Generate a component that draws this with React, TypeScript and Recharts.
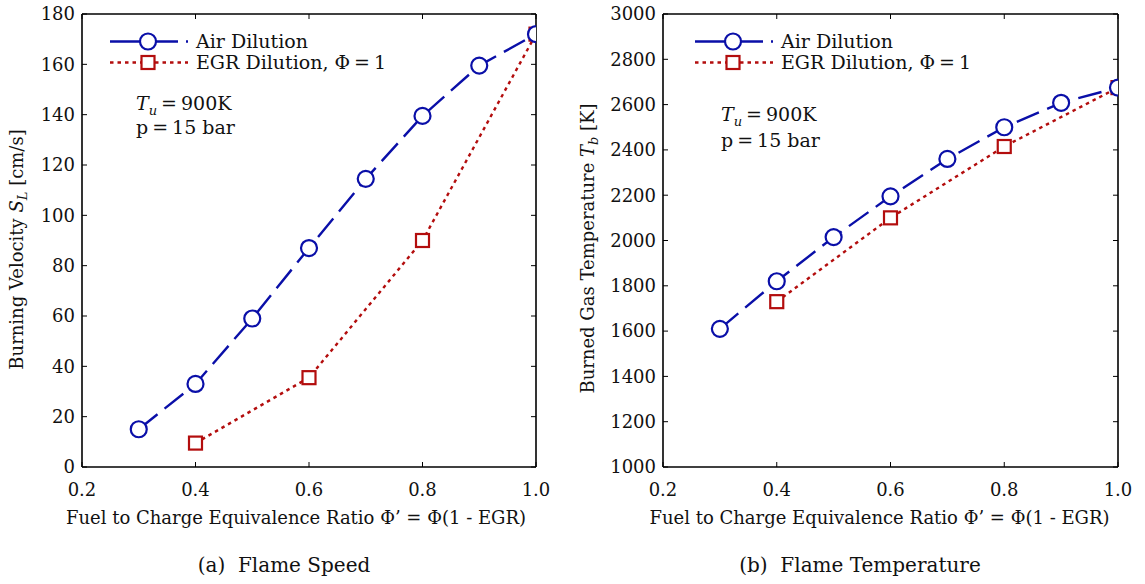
import React from 'react';
import { LineChart, Line, XAxis, YAxis } from 'recharts';

// Equivalence ratio (x) values
const phiAir = [0.3, 0.4, 0.5, 0.6, 0.7, 0.8, 0.9, 1.0];
const phiEgr = [0.4, 0.6, 0.8, 1.0];

// (a) flame speed, cm/s
const speedAir = [15, 33, 59, 87, 114.5, 139.5, 159.5, 172];
const speedEgr = [9.5, 35.5, 90, 172];

// (b) burned gas temperature, K
const tempAir = [1610, 1820, 2015, 2195, 2360, 2500, 2608, 2675];
const tempEgr = [1730, 2100, 2415, 2675];

const xTicks = [0.2, 0.4, 0.6, 0.8, 1.0];
const speedTicks = [0, 20, 40, 60, 80, 100, 120, 140, 160, 180];
const tempTicks = [1000, 1200, 1400, 1600, 1800, 2000, 2200, 2400, 2600, 2800, 3000];

const BLUE = '#0a0fa8';
const RED = '#b30d0d';
const FONT = "'DejaVu Serif', 'Liberation Serif', 'Times New Roman', serif";
const X_TITLE = 'Fuel to Charge Equivalence Ratio Φ’ = Φ(1 - EGR)';

const toRows = (xs: number[], ys: number[]) => xs.map((x, i) => ({ x, y: ys[i] }));

const Circle = (props: any) => {
  const { cx, cy } = props;
  if (cx == null || cy == null) return null;
  return <circle cx={cx} cy={cy} r={8} fill="#fff" stroke={BLUE} strokeWidth={2.2} />;
};

const Square = (props: any) => {
  const { cx, cy } = props;
  if (cx == null || cy == null) return null;
  return <rect x={cx - 6.5} y={cy - 6.5} width={13} height={13} fill="#fff" stroke={RED} strokeWidth={2.2} />;
};

const tickStyle = { fontSize: 18, fill: '#111', fontFamily: FONT };
const blank = () => '';
const frame = { stroke: '#000', strokeWidth: 1.6 };
const tickLn = { stroke: '#000', strokeWidth: 1 };

function YTitle({ viewBox, parts, offset, shift }: any) {
  const cx = viewBox.x - offset;
  const cy = viewBox.y + viewBox.height / 2 + shift;
  return (
    <text
      x={cx}
      y={cy}
      transform={`rotate(-90, ${cx}, ${cy})`}
      textAnchor="middle"
      fontSize={18}
      fontFamily={FONT}
      fill="#111"
    >
      <tspan>{parts[0]}</tspan>
      <tspan fontStyle="italic">{parts[1]}</tspan>
      <tspan fontStyle="italic" fontSize={13} dy={4}>{parts[2]}</tspan>
      <tspan dy={-4}>{parts[3]}</tspan>
    </text>
  );
}

function XTitle({ viewBox, shift }: any) {
  return (
    <text
      x={viewBox.x + viewBox.width / 2 + shift}
      y={viewBox.y + 57}
      textAnchor="middle"
      fontSize={18}
      fontFamily={FONT}
      fill="#111"
    >
      {X_TITLE}
    </text>
  );
}

interface PanelProps {
  air: number[];
  egr: number[];
  yTicks: number[];
  yTitle: string[];
  width: number;
  left: number;
  right: number;
  yOffset: number;
  yShift: number;
  xShift: number;
}

function Panel({ air, egr, yTicks, yTitle, width, left, right, yOffset, yShift, xShift }: PanelProps) {
  const domain: [number, number] = [yTicks[0], yTicks[yTicks.length - 1]];
  return (
    <LineChart width={width} height={584} margin={{ top: 13, left, right, bottom: 116 }}>
      <XAxis
        xAxisId="b"
        type="number"
        dataKey="x"
        domain={[0.2, 1.0]}
        ticks={xTicks}
        tickFormatter={(v: number) => v.toFixed(1)}
        tick={tickStyle}
        tickSize={-5}
        tickMargin={21}
        height={1}
        axisLine={frame}
        tickLine={tickLn}
        allowDataOverflow
        label={{ content: (p: any) => <XTitle viewBox={p.viewBox} shift={xShift} /> }}
      />
      <XAxis
        xAxisId="t"
        orientation="top"
        type="number"
        dataKey="x"
        domain={[0.2, 1.0]}
        ticks={xTicks}
        tickFormatter={blank}
        tickSize={-5}
        height={1}
        axisLine={frame}
        tickLine={tickLn}
        allowDataOverflow
      />
      <YAxis
        yAxisId="l"
        type="number"
        domain={domain}
        ticks={yTicks}
        tick={tickStyle}
        tickSize={-5}
        tickMargin={12}
        width={1}
        axisLine={frame}
        tickLine={tickLn}
        allowDataOverflow
        label={{ content: (p: any) => <YTitle viewBox={p.viewBox} parts={yTitle} offset={yOffset} shift={yShift} /> }}
      />
      <YAxis
        yAxisId="r"
        orientation="right"
        type="number"
        domain={domain}
        ticks={yTicks}
        tickFormatter={blank}
        tickSize={-5}
        width={1}
        axisLine={frame}
        tickLine={tickLn}
        allowDataOverflow
      />
      <Line
        xAxisId="b"
        yAxisId="l"
        data={toRows(phiEgr, egr)}
        dataKey="y"
        stroke={RED}
        strokeWidth={2.4}
        strokeDasharray="3.5 4"
        dot={<Square />}
        isAnimationActive={false}
      />
      <Line
        xAxisId="b"
        yAxisId="l"
        data={toRows(phiAir, air)}
        dataKey="y"
        stroke={BLUE}
        strokeWidth={2.4}
        strokeDasharray="24 9"
        dot={<Circle />}
        isAnimationActive={false}
      />
    </LineChart>
  );
}

function LegendBox({ x, y, ann, gap }: { x: number; y: number; ann: number; gap: number }) {
  const row = { position: 'absolute' as const, left: 0, height: 21, lineHeight: '21px', display: 'flex', alignItems: 'center', whiteSpace: 'nowrap' as const };
  const eq = { margin: '0 4px' };
  return (
    <div style={{ position: 'absolute', left: x, top: y, fontFamily: FONT, fontSize: 19, color: '#111', width: 340 }}>
      <div style={{ ...row, top: 0 }}>
        <svg width={86} height={21}>
          <line x1={0} y1={10.5} x2={78} y2={10.5} stroke={BLUE} strokeWidth={2.4} strokeDasharray="30 8" />
          <circle cx={38} cy={10.5} r={8} fill="#fff" stroke={BLUE} strokeWidth={2.2} />
        </svg>
        <span>Air Dilution</span>
      </div>
      <div style={{ ...row, top: 21 }}>
        <svg width={86} height={21}>
          <line x1={0} y1={10.5} x2={78} y2={10.5} stroke={RED} strokeWidth={2.4} strokeDasharray="3.5 4" />
          <rect x={31.5} y={4} width={13} height={13} fill="#fff" stroke={RED} strokeWidth={2.2} />
        </svg>
        <span>
          EGR Dilution, Φ<span style={eq}>=</span>1
        </span>
      </div>
      <div style={{ position: 'absolute', left: 26, top: ann, lineHeight: `${gap}px`, whiteSpace: 'nowrap' }}>
        <div>
          <i>T</i>
          <sub style={{ fontSize: 13, lineHeight: 0 }}>
            <i>u</i>
          </sub>
          <span style={eq}>=</span>900K
        </div>
        <div>
          p<span style={eq}>=</span>15 bar
        </div>
      </div>
    </div>
  );
}

export default function App() {
  const caption = { position: 'absolute' as const, top: 553, textAlign: 'center' as const, fontFamily: FONT, fontSize: 20, color: '#111' };
  return (
    <div style={{ position: 'absolute', left: 0, top: 0, width: 1145, height: 584, background: '#fff', overflow: 'hidden' }}>
      <div style={{ position: 'absolute', left: 0, top: 0 }}>
        <Panel
          air={speedAir}
          egr={speedEgr}
          yTicks={speedTicks}
          yTitle={['Burning Velocity ', 'S', 'L', ' [cm/s]']}
          width={560}
          left={81}
          right={23}
          yOffset={58}
          yShift={9}
          xShift={-13}
        />
      </div>
      <div style={{ position: 'absolute', left: 570, top: 0 }}>
        <Panel
          air={tempAir}
          egr={tempEgr}
          yTicks={tempTicks}
          yTitle={['Burned Gas Temperature ', 'T', 'b', ' [K]']}
          width={575}
          left={92}
          right={26}
          yOffset={68}
          yShift={8}
          xShift={-11}
        />
      </div>
      <LegendBox x={110} y={31} ann={60} gap={24} />
      <LegendBox x={695} y={31} ann={70} gap={26} />
      <div style={{ ...caption, left: 0, width: 568 }}>(a)&nbsp; Flame Speed</div>
      <div style={{ ...caption, left: 575, width: 570 }}>(b)&nbsp; Flame Temperature</div>
    </div>
  );
}
